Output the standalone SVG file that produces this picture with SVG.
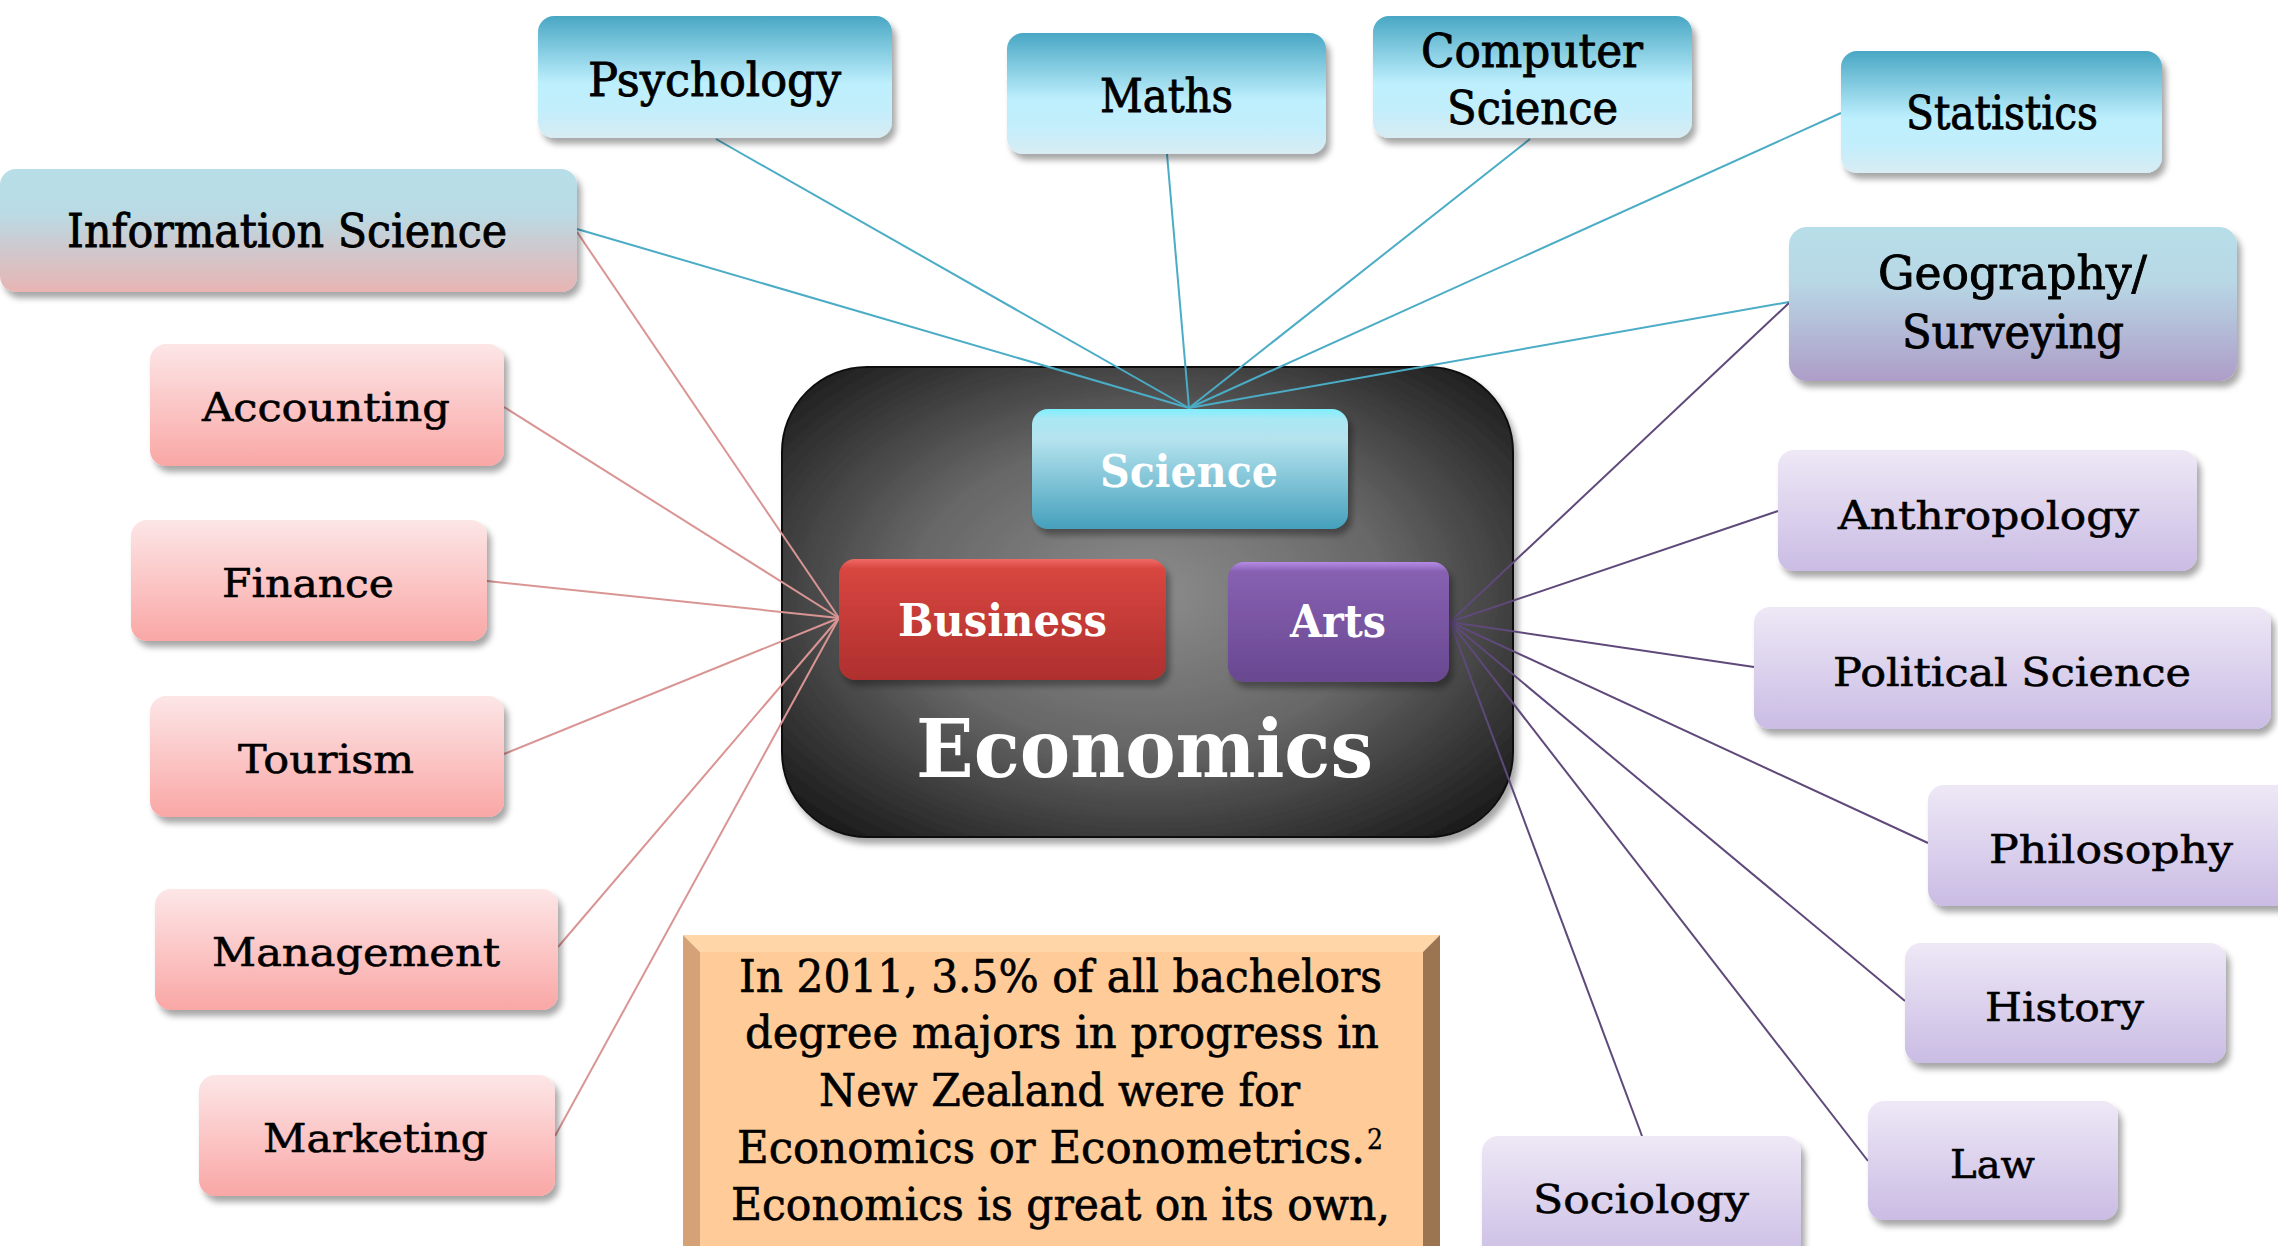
<svg xmlns="http://www.w3.org/2000/svg" width="2278" height="1246" viewBox="0 0 2278 1246">
<defs>
<style>
.c{font-family:'DejaVu Serif Condensed','DejaVu Serif','Liberation Serif',serif;font-stretch:condensed;font-size:46px;fill:#000;stroke:#000;stroke-width:0.8}
.w{font-family:'DejaVu Serif','Liberation Serif',serif;font-size:40px;fill:#000;stroke:#000;stroke-width:0.6}
.o{font-family:'DejaVu Serif Condensed','DejaVu Serif','Liberation Serif',serif;font-stretch:condensed;font-size:44px;fill:#000;stroke:#000;stroke-width:0.6}
.sup{font-size:28px;stroke-width:0.3}
.hb{font-family:'DejaVu Serif','Liberation Serif',serif;font-weight:bold;fill:#fff}
.sci{stroke:#4BACC6;stroke-width:2;fill:none}
.bus{stroke:#D99594;stroke-width:2;fill:none}
.art{stroke:#5F497A;stroke-width:2;fill:none}
</style>
<filter id="sh" x="-10%" y="-10%" width="125%" height="135%"><feDropShadow dx="4" dy="6" stdDeviation="3" flood-color="#000" flood-opacity="0.35"/></filter>
<linearGradient id="gBlue" x1="0" y1="0" x2="0" y2="1"><stop offset="0" stop-color="#49A7C4"/><stop offset="0.55" stop-color="#BDEFFD"/><stop offset="0.78" stop-color="#C3EEFB"/><stop offset="1" stop-color="#D8ECF3"/></linearGradient>
<linearGradient id="gInfo" x1="0" y1="0" x2="0" y2="1"><stop offset="0" stop-color="#B7DEE8"/><stop offset="0.35" stop-color="#B9DBE5"/><stop offset="1" stop-color="#E8B4B3"/></linearGradient>
<linearGradient id="gGeo" x1="0" y1="0" x2="0" y2="1"><stop offset="0" stop-color="#B7DEE8"/><stop offset="0.35" stop-color="#B8D8E5"/><stop offset="1" stop-color="#AE9DC8"/></linearGradient>
<linearGradient id="gPink" x1="0" y1="0" x2="0" y2="1"><stop offset="0" stop-color="#FDE6E7"/><stop offset="1" stop-color="#F9A7A5"/></linearGradient>
<linearGradient id="gPurp" x1="0" y1="0" x2="0" y2="1"><stop offset="0" stop-color="#EEE8F6"/><stop offset="1" stop-color="#CABCE4"/></linearGradient>
<radialGradient id="gEcon" cx="0.5" cy="0.48" r="0.65"><stop offset="0" stop-color="#8C8C8C"/><stop offset="0.5" stop-color="#676767"/><stop offset="0.85" stop-color="#333"/><stop offset="1" stop-color="#1E1E1E"/></radialGradient>
<linearGradient id="gSci" x1="0" y1="0" x2="0" y2="1"><stop offset="0" stop-color="#7EEFFF"/><stop offset="0.08" stop-color="#A9E8F4"/><stop offset="0.25" stop-color="#B5E3EE"/><stop offset="1" stop-color="#45A0BC"/></linearGradient>
<linearGradient id="gBus" x1="0" y1="0" x2="0" y2="1"><stop offset="0" stop-color="#F06A66"/><stop offset="0.08" stop-color="#D84640"/><stop offset="1" stop-color="#AE2F2E"/></linearGradient>
<linearGradient id="gArt" x1="0" y1="0" x2="0" y2="1"><stop offset="0" stop-color="#B58BE6"/><stop offset="0.08" stop-color="#8760B2"/><stop offset="1" stop-color="#694890"/></linearGradient>
</defs>
<rect width="2278" height="1246" fill="#fff"/>

<g id="economics">
<rect x="782" y="367" width="731" height="470" rx="85" fill="url(#gEcon)" stroke="#111" stroke-width="2" filter="url(#sh)"/>
<text class="hb" x="916" y="777" font-size="80" textLength="457" lengthAdjust="spacingAndGlyphs">Economics</text>
</g>

<g id="connectors">
<line class="sci" x1="716" y1="139" x2="1189" y2="408"/>
<line class="sci" x1="1167" y1="154" x2="1189" y2="408"/>
<line class="sci" x1="1530" y1="139" x2="1189" y2="408"/>
<line class="sci" x1="1841" y1="113" x2="1189" y2="408"/>
<line class="sci" x1="1789" y1="302" x2="1189" y2="408"/>
<line class="sci" x1="577" y1="229" x2="1189" y2="408"/>
<line class="bus" x1="577" y1="232" x2="839" y2="618"/>
<line class="bus" x1="504" y1="407" x2="839" y2="618"/>
<line class="bus" x1="487" y1="581" x2="839" y2="618"/>
<line class="bus" x1="504" y1="754" x2="839" y2="618"/>
<line class="bus" x1="558" y1="947" x2="839" y2="618"/>
<line class="bus" x1="555" y1="1136" x2="839" y2="618"/>
<line class="art" x1="1789" y1="303" x2="1450" y2="622"/>
<line class="art" x1="1778" y1="511" x2="1450" y2="622"/>
<line class="art" x1="1754" y1="667" x2="1450" y2="622"/>
<line class="art" x1="1928" y1="843" x2="1450" y2="622"/>
<line class="art" x1="1905" y1="1001" x2="1450" y2="622"/>
<line class="art" x1="1868" y1="1161" x2="1450" y2="622"/>
<line class="art" x1="1642" y1="1136" x2="1450" y2="622"/>
</g>

<g id="science">
<rect x="1032" y="409" width="316" height="120" rx="16" fill="url(#gSci)" filter="url(#sh)"/>
<text class="hb" x="1100" y="487" font-size="44" textLength="178" lengthAdjust="spacingAndGlyphs">Science</text>
</g>
<g id="business">
<rect x="839" y="559" width="327" height="121" rx="16" fill="url(#gBus)" filter="url(#sh)"/>
<text class="hb" x="898" y="636" font-size="44" textLength="209" lengthAdjust="spacingAndGlyphs">Business</text>
</g>
<g id="arts">
<rect x="1228" y="562" width="221" height="120" rx="16" fill="url(#gArt)" filter="url(#sh)"/>
<text class="hb" x="1290" y="637" font-size="44" textLength="96" lengthAdjust="spacingAndGlyphs">Arts</text>
</g>

<g id="psychology">
<rect x="538" y="16" width="354" height="122" rx="16" fill="url(#gBlue)" filter="url(#sh)"/>
<text class="c" x="588" y="96" textLength="253" lengthAdjust="spacingAndGlyphs">Psychology</text>
</g>
<g id="maths">
<rect x="1007" y="33" width="319" height="121" rx="16" fill="url(#gBlue)" filter="url(#sh)"/>
<text class="c" x="1100" y="112" textLength="133" lengthAdjust="spacingAndGlyphs">Maths</text>
</g>
<g id="computer-science">
<rect x="1373" y="16" width="319" height="122" rx="16" fill="url(#gBlue)" filter="url(#sh)"/>
<text class="c" x="1421" y="67" textLength="222" lengthAdjust="spacingAndGlyphs">Computer</text>
<text class="c" x="1447" y="124" textLength="171" lengthAdjust="spacingAndGlyphs">Science</text>
</g>
<g id="statistics">
<rect x="1841" y="51" width="321" height="122" rx="16" fill="url(#gBlue)" filter="url(#sh)"/>
<text class="c" x="1906" y="129" textLength="192" lengthAdjust="spacingAndGlyphs">Statistics</text>
</g>
<g id="information-science">
<rect x="0" y="169" width="577" height="123" rx="16" fill="url(#gInfo)" filter="url(#sh)"/>
<text class="c" x="67" y="247" textLength="440" lengthAdjust="spacingAndGlyphs">Information Science</text>
</g>
<g id="geography-surveying">
<rect x="1789" y="227" width="448" height="154" rx="18" fill="url(#gGeo)" filter="url(#sh)"/>
<text class="c" x="1878" y="289" textLength="269" lengthAdjust="spacingAndGlyphs">Geography/</text>
<text class="c" x="1902" y="348" textLength="222" lengthAdjust="spacingAndGlyphs">Surveying</text>
</g>

<g id="accounting">
<rect x="150" y="344" width="354" height="122" rx="16" fill="url(#gPink)" filter="url(#sh)"/>
<text class="w" x="202" y="421" textLength="248" lengthAdjust="spacingAndGlyphs">Accounting</text>
</g>
<g id="finance">
<rect x="131" y="520" width="356" height="121" rx="16" fill="url(#gPink)" filter="url(#sh)"/>
<text class="w" x="222" y="597" textLength="172" lengthAdjust="spacingAndGlyphs">Finance</text>
</g>
<g id="tourism">
<rect x="150" y="696" width="354" height="121" rx="16" fill="url(#gPink)" filter="url(#sh)"/>
<text class="w" x="238" y="773" textLength="176" lengthAdjust="spacingAndGlyphs">Tourism</text>
</g>
<g id="management">
<rect x="155" y="889" width="403" height="121" rx="16" fill="url(#gPink)" filter="url(#sh)"/>
<text class="w" x="212" y="966" textLength="288" lengthAdjust="spacingAndGlyphs">Management</text>
</g>
<g id="marketing">
<rect x="199" y="1075" width="356" height="121" rx="16" fill="url(#gPink)" filter="url(#sh)"/>
<text class="w" x="263" y="1152" textLength="225" lengthAdjust="spacingAndGlyphs">Marketing</text>
</g>

<g id="anthropology">
<rect x="1778" y="450" width="419" height="121" rx="16" fill="url(#gPurp)" filter="url(#sh)"/>
<text class="w" x="1838" y="529" textLength="301" lengthAdjust="spacingAndGlyphs">Anthropology</text>
</g>
<g id="political-science">
<rect x="1754" y="607" width="517" height="122" rx="16" fill="url(#gPurp)" filter="url(#sh)"/>
<text class="w" x="1833" y="686" textLength="358" lengthAdjust="spacingAndGlyphs">Political Science</text>
</g>
<g id="philosophy">
<rect x="1928" y="785" width="370" height="121" rx="16" fill="url(#gPurp)" filter="url(#sh)"/>
<text class="w" x="1989" y="863" textLength="244" lengthAdjust="spacingAndGlyphs">Philosophy</text>
</g>
<g id="history">
<rect x="1905" y="943" width="321" height="120" rx="16" fill="url(#gPurp)" filter="url(#sh)"/>
<text class="w" x="1985" y="1021" textLength="159" lengthAdjust="spacingAndGlyphs">History</text>
</g>
<g id="law">
<rect x="1868" y="1101" width="250" height="119" rx="16" fill="url(#gPurp)" filter="url(#sh)"/>
<text class="w" x="1950" y="1178" textLength="85" lengthAdjust="spacingAndGlyphs">Law</text>
</g>
<g id="sociology">
<rect x="1482" y="1136" width="319" height="130" rx="16" fill="url(#gPurp)" filter="url(#sh)"/>
<text class="w" x="1533" y="1213" textLength="216" lengthAdjust="spacingAndGlyphs">Sociology</text>
</g>

<g id="fact-box">
<rect x="700" y="952" width="723" height="300" fill="#FFCC99"/>
<polygon points="683,935 1440,935 1423,952 700,952" fill="#FFD6A8"/>
<polygon points="683,935 700,952 700,1246 683,1246" fill="#D4A276"/>
<polygon points="1440,935 1440,1246 1423,1246 1423,952" fill="#9B7552"/>
<text class="o" x="739" y="992" textLength="643" lengthAdjust="spacingAndGlyphs">In 2011, 3.5% of all bachelors</text>
<text class="o" x="745" y="1048" textLength="634" lengthAdjust="spacingAndGlyphs">degree majors in progress in</text>
<text class="o" x="819" y="1106" textLength="481" lengthAdjust="spacingAndGlyphs">New Zealand were for</text>
<text class="o" x="737" y="1163" textLength="628" lengthAdjust="spacingAndGlyphs">Economics or Econometrics.</text>
<text class="o sup" x="1367" y="1149">2</text>
<text class="o" x="731" y="1220" textLength="659" lengthAdjust="spacingAndGlyphs">Economics is great on its own,</text>
</g>
</svg>
